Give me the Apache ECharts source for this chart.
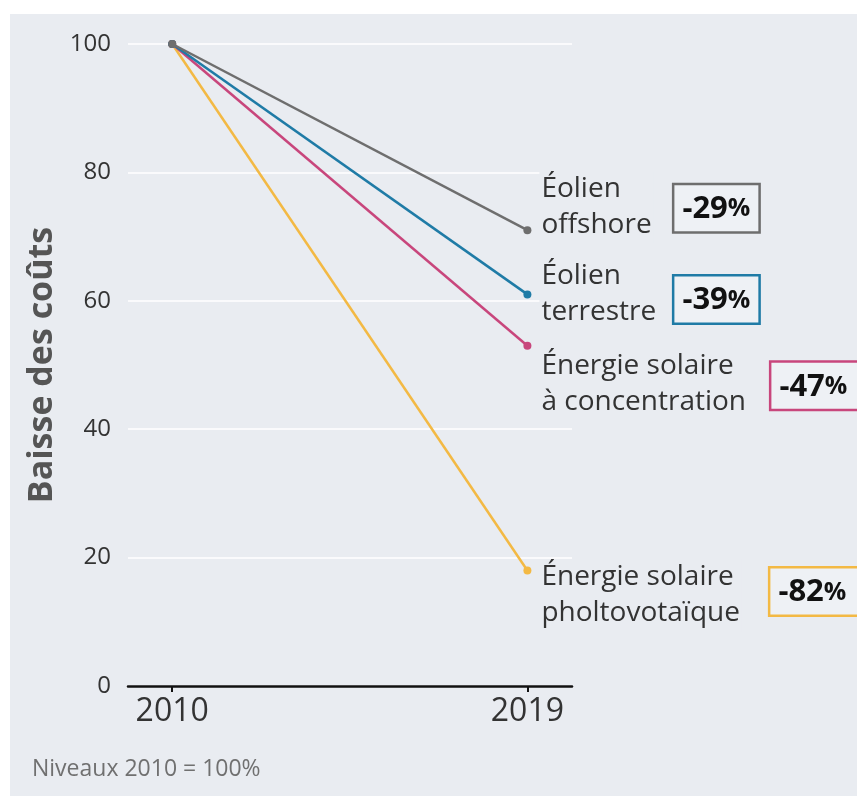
<!DOCTYPE html>
<html><head><meta charset="utf-8">
<script src="https://cdn.jsdelivr.net/npm/echarts@6/dist/echarts.min.js"></script>
<style>html,body{margin:0;padding:0;background:#fff}#c{width:857px;height:796px}</style>
</head><body><div id="c"></div>
<script>
const years = [2010, 2019];
const seriesNames = ['Énergie solaire\npholtovotaïque', 'Énergie solaire\nà concentration', 'Éolien\nterrestre', 'Éolien\noffshore'];
const values2010 = [100, 100, 100, 100];
const values2019 = [18, 53, 61, 71];
const changeLabels = ['-82', '-47', '-39', '-29'];
const yTicks = [0, 20, 40, 60, 80, 100];
const colors = ['#f3b944', '#c8467c', '#1f7ba6', '#6e6e6e'];
const nameOffsets = [[0, 25], [0, 38], [0, 0], [0, -23]];
const boxOffsets = [[235, 21], [236, 40], [139, 5], [139, -22]];
const boxPadRight = [14, 14, 8, 8];

const series = seriesNames.map((name, i) => ({
  type: 'line',
  name: name,
  data: [
    [years[0], values2010[i]],
    {value: [years[1], values2019[i]], label: {
      show: true, position: 'right', distance: 8, offset: nameOffsets[i],
      formatter: name, color: '#333', fontSize: 28, lineHeight: 36,
      fontFamily: 'Open Sans', backgroundColor: '#e9ecf1', padding: [0, 2, 0, 2]
    }}
  ],
  lineStyle: {color: colors[i], width: 2.5},
  itemStyle: {color: colors[i]},
  symbol: 'circle', symbolSize: 8, showSymbol: true,
  z: 2 + i,
  endLabel: {
    show: true, offset: boxOffsets[i], distance: 8,
    formatter: '{v|' + changeLabels[i] + '}{p|%}',
    backgroundColor: '#eef1f5', borderColor: colors[i], borderWidth: 2.5,
    padding: [4, boxPadRight[i], 2, 8],
    rich: {
      v: {fontSize: 31, lineHeight: 40, fontWeight: 'bold', color: '#111', fontFamily: 'Open Sans'},
      p: {fontSize: 25, lineHeight: 40, fontWeight: 'bold', color: '#111', fontFamily: 'Open Sans'}
    }
  },
  animation: false
}));

const chart = echarts.init(document.getElementById('c'));
chart.setOption({
  backgroundColor: '#ffffff',
  animation: false,
  graphic: [
    {type: 'rect', shape: {x: 10, y: 14, width: 847, height: 782}, style: {fill: '#e9ecf1'}, z: -10, silent: true},
    {type: 'text', left: 32, top: 758, style: {text: 'Niveaux 2010 = 100%', fill: '#707070', fontSize: 23, fontFamily: 'Open Sans'}}
  ],
  grid: {left: 128, right: 285, top: 44, bottom: 110, containLabel: false},
  xAxis: {
    type: 'value', min: 2008.88, max: 2020.13,
    splitLine: {show: false},
    axisLine: {show: true, lineStyle: {color: '#111', width: 2.5}},
    axisTick: {show: true, customValues: years, length: 6, lineStyle: {color: '#111', width: 2}},
    axisLabel: {customValues: years, formatter: v => String(v), color: '#333', fontSize: 32, fontFamily: 'Open Sans', margin: 10}
  },
  yAxis: {
    type: 'value', min: yTicks[0], max: yTicks[yTicks.length - 1], interval: 20,
    name: 'Baisse des coûts', nameLocation: 'middle', nameRotate: 90, nameGap: 69,
    nameTextStyle: {fontSize: 34, fontWeight: 'bold', color: '#555', fontFamily: 'Open Sans'},
    axisLine: {show: false}, axisTick: {show: false},
    axisLabel: {color: '#333', fontSize: 24, fontFamily: 'Open Sans', margin: 17},
    splitLine: {show: true, lineStyle: {color: '#ffffff', width: 1.5}}
  },
  series: series
});
</script></body></html>
